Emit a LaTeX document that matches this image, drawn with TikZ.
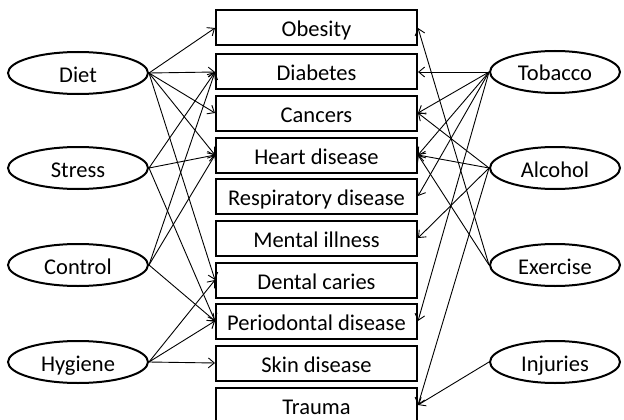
\documentclass[tikz,border=0pt]{standalone}
\usepackage{fontspec}
\setmainfont{Carlito}
\usetikzlibrary{shapes.geometric,arrows.meta}
\begin{document}
\begin{tikzpicture}[x=1pt,y=-1pt,
  txt/.style={font=\fontsize{22.5}{26}\selectfont,text height=19pt,text depth=1pt},
  disease/.style={draw,txt,line width=2pt,minimum width=201pt,minimum height=35pt,inner sep=0pt},
  factor/.style={draw,txt,ellipse,line width=2pt,minimum height=42pt,inner sep=0pt},
  lfac/.style={factor,minimum width=140pt},
  rfac/.style={factor,minimum width=130pt},
  link/.style={line width=0.9pt,-{Straight Barb[length=6pt,width=10pt,line width=0.9pt]}}]
\useasboundingbox[fill=white] (0,0) rectangle (624,420);
% diseases
\node[disease] (ob) at (316.5,28) {Obesity};
\node[disease] (di) at (316.5,72) {Diabetes};
\node[disease] (ca) at (316.5,113) {Cancers};
\node[disease] (he) at (316.5,155) {Heart disease};
\node[disease] (re) at (316.5,196) {Respiratory disease};
\node[disease] (me) at (316.5,238) {Mental illness};
\node[disease] (de) at (316.5,280) {Dental caries};
\node[disease] (pe) at (316.5,321) {Periodontal disease};
\node[disease] (sk) at (316.5,363) {Skin disease};
\node[disease] (tr) at (316.5,405) {Trauma};
% left factors
\node[lfac] (diet) at (78,73) {Diet};
\node[lfac] (stress) at (78,168) {Stress};
\node[lfac] (control) at (78,265) {Control};
\node[lfac] (hygiene) at (78,362) {Hygiene};
% right factors
\node[rfac] (tobacco) at (555,72) {Tobacco};
\node[rfac] (alcohol) at (555,168) {Alcohol};
\node[rfac] (exercise) at (555,265) {Exercise};
\node[rfac] (injuries) at (555,362) {Injuries};
% left links
\foreach \t in {ob,di,ca,he,de} \draw[link] (diet.east) -- (\t.west);
\foreach \t in {di,he,pe} \draw[link] (stress.east) -- (\t.west);
\foreach \t in {di,he,pe} \draw[link] (control.east) -- (\t.west);
\foreach \t in {de,pe,sk} \draw[link] (hygiene.east) -- (\t.west);
% right links
\foreach \t in {di,ca,he,re,pe} \draw[link] (tobacco.west) -- (\t.east);
\foreach \t in {ca,he,me,tr} \draw[link] (alcohol.west) -- (\t.east);
\foreach \t in {ob,he} \draw[link] (exercise.west) -- (\t.east);
\draw[link] (injuries.west) -- (tr.east);
\end{tikzpicture}
\end{document}
